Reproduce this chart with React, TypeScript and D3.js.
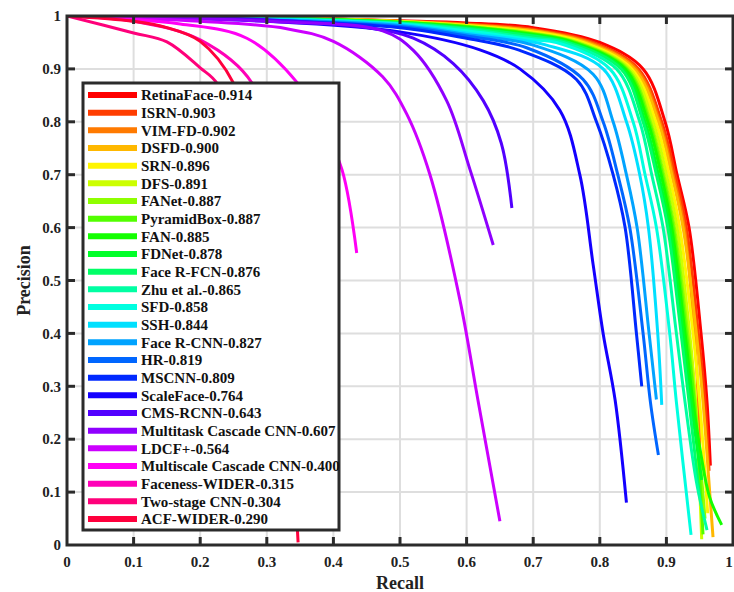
import React from "react";
import * as d3 from "d3";

// legend names and AP scores, in legend order
const methods = [
  "RetinaFace", "ISRN", "VIM-FD", "DSFD", "SRN", "DFS", "FANet", "PyramidBox",
  "FAN", "FDNet", "Face R-FCN", "Zhu et al.", "SFD", "SSH", "Face R-CNN", "HR",
  "MSCNN", "ScaleFace", "CMS-RCNN", "Multitask Cascade CNN", "LDCF+",
  "Multiscale Cascade CNN", "Faceness-WIDER", "Two-stage CNN", "ACF-WIDER",
];
const apScores = [
  "0.914", "0.903", "0.902", "0.900", "0.896", "0.891", "0.887", "0.887",
  "0.885", "0.878", "0.876", "0.865", "0.858", "0.844", "0.827", "0.819",
  "0.809", "0.764", "0.643", "0.607", "0.564", "0.400", "0.315", "0.304", "0.290",
];

// [recall, precision]
const retinaFacePR = [[0, 1], [0.3, 0.997], [0.5, 0.991], [0.6, 0.987], [0.7, 0.978], [0.8, 0.95], [0.865, 0.9], [0.898, 0.8], [0.916, 0.7], [0.934, 0.6], [0.952, 0.4], [0.961, 0.27], [0.966, 0.15]];
const isrnPR = [[0, 1], [0.3, 0.997], [0.5, 0.99], [0.6, 0.985], [0.7, 0.975], [0.79, 0.95], [0.858, 0.9], [0.893, 0.8], [0.913, 0.7], [0.93, 0.6], [0.948, 0.4], [0.958, 0.27], [0.964, 0.14]];
const vimfdPR = [[0, 1], [0.3, 0.997], [0.5, 0.99], [0.6, 0.984], [0.7, 0.973], [0.785, 0.95], [0.855, 0.9], [0.89, 0.8], [0.91, 0.7], [0.927, 0.6], [0.942, 0.4], [0.948, 0.27], [0.951, 0.085]];
const dsfdPR = [[0, 1], [0.3, 0.997], [0.5, 0.99], [0.6, 0.983], [0.7, 0.972], [0.78, 0.95], [0.852, 0.9], [0.888, 0.8], [0.908, 0.7], [0.925, 0.6], [0.945, 0.4], [0.955, 0.27], [0.965, 0.1], [0.97, 0.015]];
const srnPR = [[0, 1], [0.3, 0.996], [0.5, 0.989], [0.6, 0.982], [0.7, 0.97], [0.775, 0.95], [0.848, 0.9], [0.884, 0.8], [0.904, 0.7], [0.92, 0.6], [0.94, 0.4], [0.95, 0.27], [0.962, 0.06]];
const dfsPR = [[0, 1], [0.3, 0.996], [0.5, 0.989], [0.6, 0.981], [0.7, 0.968], [0.77, 0.95], [0.845, 0.9], [0.88, 0.8], [0.9, 0.7], [0.916, 0.6], [0.935, 0.4], [0.944, 0.27], [0.953, 0.011]];
const fanetPR = [[0, 1], [0.3, 0.996], [0.5, 0.988], [0.6, 0.98], [0.7, 0.967], [0.765, 0.95], [0.842, 0.9], [0.876, 0.8], [0.896, 0.7], [0.912, 0.6], [0.932, 0.4], [0.943, 0.27], [0.958, 0.05]];
const pyramidBoxPR = [[0, 1], [0.3, 0.996], [0.5, 0.988], [0.6, 0.98], [0.7, 0.966], [0.763, 0.95], [0.84, 0.9], [0.874, 0.8], [0.894, 0.7], [0.91, 0.6], [0.93, 0.4], [0.942, 0.27], [0.955, 0.02]];
const fanPR = [[0, 1], [0.3, 0.996], [0.5, 0.988], [0.6, 0.979], [0.7, 0.965], [0.76, 0.95], [0.838, 0.9], [0.872, 0.8], [0.892, 0.7], [0.908, 0.6], [0.928, 0.4], [0.94, 0.27], [0.952, 0.17], [0.965, 0.09], [0.983, 0.038]];
const fdnetPR = [[0, 1], [0.3, 0.996], [0.5, 0.987], [0.6, 0.978], [0.7, 0.963], [0.755, 0.95], [0.835, 0.9], [0.868, 0.8], [0.888, 0.7], [0.905, 0.6], [0.925, 0.4], [0.937, 0.27], [0.953, 0.123]];
const faceRfcnPR = [[0, 1], [0.3, 0.996], [0.5, 0.987], [0.6, 0.977], [0.7, 0.962], [0.752, 0.95], [0.832, 0.9], [0.865, 0.8], [0.885, 0.7], [0.902, 0.6], [0.922, 0.4], [0.934, 0.27], [0.95, 0.09]];
const zhuPR = [[0, 1], [0.3, 0.995], [0.5, 0.986], [0.6, 0.975], [0.7, 0.958], [0.745, 0.95], [0.825, 0.9], [0.86, 0.8], [0.878, 0.7], [0.895, 0.6], [0.915, 0.4], [0.928, 0.27], [0.945, 0.12], [0.961, 0.028]];
const sfdPR = [[0, 1], [0.3, 0.995], [0.5, 0.985], [0.6, 0.972], [0.7, 0.955], [0.735, 0.95], [0.815, 0.9], [0.85, 0.8], [0.868, 0.7], [0.885, 0.6], [0.905, 0.4], [0.915, 0.27], [0.937, 0.019]];
const sshPR = [[0, 1], [0.3, 0.994], [0.5, 0.984], [0.6, 0.968], [0.72, 0.945], [0.805, 0.9], [0.84, 0.8], [0.86, 0.7], [0.873, 0.6], [0.887, 0.4], [0.893, 0.265]];
const faceRcnnPR = [[0, 1], [0.3, 0.993], [0.5, 0.982], [0.6, 0.965], [0.7, 0.945], [0.79, 0.89], [0.82, 0.8], [0.84, 0.7], [0.856, 0.6], [0.874, 0.4], [0.885, 0.275]];
const hrPR = [[0, 1], [0.3, 0.992], [0.5, 0.98], [0.6, 0.962], [0.69, 0.94], [0.775, 0.88], [0.805, 0.8], [0.827, 0.7], [0.845, 0.6], [0.865, 0.4], [0.876, 0.27], [0.888, 0.17]];
const mscnnPR = [[0, 1], [0.3, 0.992], [0.5, 0.978], [0.6, 0.958], [0.68, 0.935], [0.765, 0.88], [0.795, 0.8], [0.82, 0.7], [0.838, 0.6], [0.855, 0.4], [0.863, 0.3]];
const scaleFacePR = [[0, 1], [0.3, 0.99], [0.5, 0.97], [0.62, 0.936], [0.68, 0.9], [0.74, 0.822], [0.77, 0.7], [0.79, 0.53], [0.805, 0.4], [0.823, 0.274], [0.84, 0.08]];
const cmsRcnnPR = [[0, 1], [0.3, 0.993], [0.45, 0.978], [0.52, 0.958], [0.58, 0.91], [0.625, 0.84], [0.652, 0.76], [0.668, 0.637]];
const multitaskPR = [[0, 1], [0.3, 0.99], [0.474, 0.972], [0.52, 0.935], [0.57, 0.84], [0.605, 0.71], [0.64, 0.567]];
const ldcfPR = [[0, 1], [0.2, 0.99], [0.33, 0.976], [0.4, 0.952], [0.474, 0.885], [0.51, 0.815], [0.545, 0.7], [0.59, 0.463], [0.617, 0.274], [0.65, 0.045]];
const multiscalePR = [[0, 1], [0.17, 0.985], [0.27, 0.958], [0.345, 0.875], [0.385, 0.79], [0.413, 0.709], [0.435, 0.552]];
const facenessPR = [[0, 1], [0.1, 0.99], [0.2, 0.955], [0.278, 0.873], [0.31, 0.72], [0.33, 0.5], [0.34, 0.3]];
const twoStagePR = [[0, 1], [0.1, 0.968], [0.15, 0.951], [0.2, 0.902], [0.225, 0.873], [0.26, 0.75], [0.29, 0.55], [0.3, 0.42]];
const acfPR = [[0, 1], [0.1, 0.99], [0.15, 0.978], [0.2, 0.952], [0.25, 0.873], [0.29, 0.7], [0.32, 0.45], [0.34, 0.15], [0.347, 0.005]];

const prCurves = [
  retinaFacePR, isrnPR, vimfdPR, dsfdPR, srnPR, dfsPR, fanetPR, pyramidBoxPR,
  fanPR, fdnetPR, faceRfcnPR, zhuPR, sfdPR, sshPR, faceRcnnPR, hrPR, mscnnPR,
  scaleFacePR, cmsRcnnPR, multitaskPR, ldcfPR, multiscalePR, facenessPR,
  twoStagePR, acfPR,
];

const tickValues = [0, 0.1, 0.2, 0.3, 0.4, 0.5, 0.6, 0.7, 0.8, 0.9, 1];
const tickLabels = ["0", "0.1", "0.2", "0.3", "0.4", "0.5", "0.6", "0.7", "0.8", "0.9", "1"];

const W = 734;
const H = 592;
const FONT = "Liberation Serif, DejaVu Serif, serif";
const FRAME = "#2b2b2b";

export default function App() {
  const x = d3.scaleLinear().domain([0, 1]).range([67, 733]);
  const y = d3.scaleLinear().domain([0, 1]).range([545, 16]);

  // matlab-style hsv colormap
  const hsv = (i) => d3.hsl((i * 360) / methods.length, 1, 0.5).formatHex();

  const line = d3
    .line()
    .x((d) => x(d[0]))
    .y((d) => y(d[1]))
    .curve(d3.curveCatmullRom.alpha(0.5));

  const legendY = d3.scaleLinear().domain([0, methods.length - 1]).range([95, 519]);

  return (
    <svg
      width={W}
      height={H}
      style={{ position: "absolute", left: 0, top: 0, background: "#fff", fontFamily: FONT }}
    >
      <defs>
        <clipPath id="plotClip">
          <rect x={x(0)} y={y(1)} width={x(1) - x(0)} height={y(0) - y(1)} />
        </clipPath>
      </defs>

      {/* grid */}
      <g stroke="#dedede" strokeWidth={2}>
        {tickValues.slice(1, -1).map((t) => (
          <line key={"gx" + t} x1={x(t)} x2={x(t)} y1={y(0)} y2={y(1)} />
        ))}
        {tickValues.slice(1, -1).map((t) => (
          <line key={"gy" + t} x1={x(0)} x2={x(1)} y1={y(t)} y2={y(t)} />
        ))}
      </g>

      {/* curves */}
      <g fill="none" strokeWidth={3} strokeLinejoin="round" clipPath="url(#plotClip)">
        {prCurves.map((c, i) => (
          <path key={methods[i]} d={line(c)} stroke={hsv(i)} />
        ))}
      </g>

      {/* frame and ticks */}
      <rect x={x(0)} y={y(1)} width={x(1) - x(0)} height={y(0) - y(1)} fill="none" stroke={FRAME} strokeWidth={3} />
      <g stroke={FRAME} strokeWidth={3}>
        {tickValues.slice(1, -1).map((t) => (
          <g key={"t" + t}>
            <line x1={x(t)} x2={x(t)} y1={y(0)} y2={y(0) - 8} />
            <line x1={x(t)} x2={x(t)} y1={y(1)} y2={y(1) + 8} />
            <line x1={x(0)} x2={x(0) + 8} y1={y(t)} y2={y(t)} />
            <line x1={x(1)} x2={x(1) - 8} y1={y(t)} y2={y(t)} />
          </g>
        ))}
      </g>

      {/* tick labels */}
      <g fontSize={15} fontWeight="bold" fill="#222">
        {tickValues.map((t, i) => (
          <text key={"xl" + t} x={Math.min(x(t), 729)} y={567} textAnchor="middle">
            {tickLabels[i]}
          </text>
        ))}
        {tickValues.map((t, i) => (
          <text key={"yl" + t} x={61} y={y(t)} dy="0.35em" textAnchor="end">
            {tickLabels[i]}
          </text>
        ))}
      </g>

      {/* axis titles */}
      <text x={x(0.5)} y={589} textAnchor="middle" fontSize={18} fontWeight="bold" fill="#222">
        Recall
      </text>
      <text
        transform={`translate(30,${y(0.5)}) rotate(-90)`}
        textAnchor="middle"
        fontSize={18}
        fontWeight="bold"
        fill="#222"
      >
        Precision
      </text>

      {/* legend */}
      <rect x={83} y={83} width={256} height={447} fill="#fff" stroke={FRAME} strokeWidth={3} />
      {methods.map((m, i) => (
        <g key={"lg" + m}>
          <line x1={88} x2={137} y1={legendY(i)} y2={legendY(i)} stroke={hsv(i)} strokeWidth={6} />
          <text x={141} y={legendY(i)} dy="0.35em" fontSize={15} fontWeight="bold" fill="#111">
            {m}-{apScores[i]}
          </text>
        </g>
      ))}
    </svg>
  );
}
